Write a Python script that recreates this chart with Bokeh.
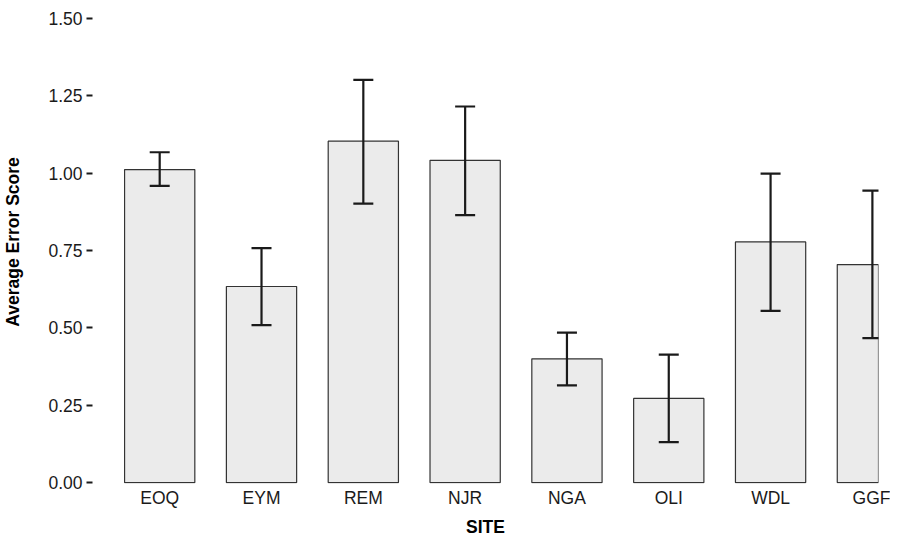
import numpy as np
from bokeh.plotting import figure
from bokeh.models import Range1d, FixedTicker, ColumnDataSource, Whisker
from bokeh.embed import file_html
from bokeh.resources import INLINE

sites = ["EOQ", "EYM", "REM", "NJR", "NGA", "OLI", "WDL", "GGF"]
means = [1.012, 0.634, 1.104, 1.042, 0.400, 0.272, 0.778, 0.705]
upper = [1.068, 0.758, 1.302, 1.216, 0.485, 0.414, 0.999, 0.944]
lower = [0.959, 0.509, 0.902, 0.865, 0.314, 0.131, 0.555, 0.467]
y_ticks = [0.0, 0.25, 0.5, 0.75, 1.0, 1.25, 1.5]
y_tick_labels = ["0.00", "0.25", "0.50", "0.75", "1.00", "1.25", "1.50"]

xs = list(range(len(sites)))
src = ColumnDataSource(dict(x=xs, top=means, upper=upper, lower=lower))

FONT = "Liberation Sans"
FS = "17.5px"

p = figure(frame_width=786, frame_height=483, output_backend="svg", toolbar_location=None,
           x_range=Range1d(-0.66, 7.06), y_range=Range1d(-0.003, 1.5587),
           min_border_left=0, min_border_right=12, min_border_top=0, min_border_bottom=0)
p.outline_line_color = None
p.background_fill_color = "white"
p.border_fill_color = "white"
p.grid.visible = False

p.vbar(x="x", top="top", bottom=0, width=0.69, source=src,
       fill_color="#EBEBEB", line_color="#333333", line_width=1.2)

w = Whisker(base="x", upper="upper", lower="lower", source=src,
            line_color="#1a1a1a", line_width=2.2, level="overlay")
for h in (w.upper_head, w.lower_head):
    h.size = 20
    h.line_color = "#1a1a1a"
    h.line_width = 2.2
p.add_layout(w)

# x axis
p.xaxis.ticker = FixedTicker(ticks=xs)
p.xaxis.major_label_overrides = {i: s for i, s in enumerate(sites)}
p.xaxis.axis_line_color = None
p.xaxis.major_tick_line_color = None
p.xaxis.minor_tick_line_color = None
p.xaxis.major_tick_out = 0
p.xaxis.major_tick_in = 0
p.xaxis.major_label_standoff = 4
p.xaxis.major_label_text_font = FONT
p.xaxis.major_label_text_font_size = FS
p.xaxis.major_label_text_color = "#1a1a1a"
p.xaxis.axis_label = "SITE"
p.xaxis.axis_label_text_font = FONT
p.xaxis.axis_label_text_font_size = FS
p.xaxis.axis_label_text_font_style = "bold"
p.xaxis.axis_label_text_color = "#000000"
p.xaxis.axis_label_standoff = 6

# y axis
p.yaxis.ticker = FixedTicker(ticks=y_ticks)
p.yaxis.major_label_overrides = {t: l for t, l in zip(y_ticks, y_tick_labels)}
p.yaxis.axis_line_color = None
p.yaxis.minor_tick_line_color = None
p.yaxis.major_tick_line_color = "#1a1a1a"
p.yaxis.major_tick_line_width = 2
p.yaxis.major_tick_out = 6
p.yaxis.major_tick_in = 0
p.yaxis.major_label_standoff = 4
p.yaxis.major_label_text_font = FONT
p.yaxis.major_label_text_font_size = FS
p.yaxis.major_label_text_color = "#1a1a1a"
p.yaxis.axis_label = "Average Error Score"
p.yaxis.axis_label_text_font = FONT
p.yaxis.axis_label_text_font_size = FS
p.yaxis.axis_label_text_font_style = "bold"
p.yaxis.axis_label_text_color = "#000000"
p.yaxis.axis_label_standoff = 22

open("out.html", "w").write(file_html(p, INLINE))
